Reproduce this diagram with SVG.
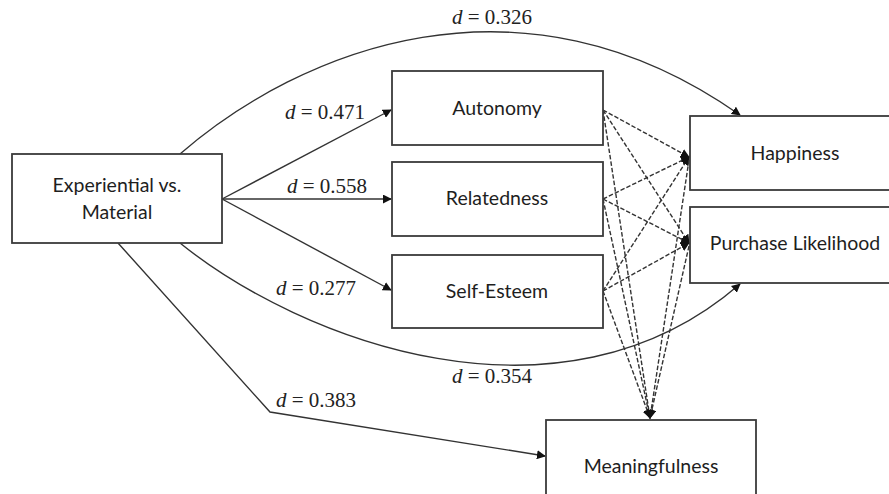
<svg xmlns="http://www.w3.org/2000/svg" width="889" height="494" viewBox="0 0 889 494">
<defs>
<marker id="ah" viewBox="0 0 10 10" refX="9" refY="5" markerWidth="9" markerHeight="9" markerUnits="userSpaceOnUse" orient="auto">
<path d="M0,0 L10,5 L0,10 z" fill="#111"/>
</marker>
<style>
.box{fill:#fff;stroke:#3a3a3a;stroke-width:1.8}
.nt{font-family:Lato,"Open Sans",sans-serif;font-size:19.5px;fill:#1e1e1e;text-anchor:middle}
.lab{font-family:"Liberation Serif",serif;font-size:21px;fill:#222}
.lab tspan.i{font-style:italic}
.sol{fill:none;stroke:#333;stroke-width:1.4;marker-end:url(#ah)}
.das{fill:none;stroke:#333;stroke-width:1.4;stroke-dasharray:4.5 2;marker-end:url(#ah)}
</style>
</defs>
<rect width="889" height="494" fill="#fff"/>
<g id="connectors">
<path class="sol" d="M222,199 L391,110"/>
<path class="sol" d="M222,199 L391,199"/>
<path class="sol" d="M222,199 L391,290"/>
<path class="sol" d="M180,154 C300,50 520,-40 740,115"/>
<path class="sol" d="M180,243 C300,340 560,440 740,284"/>
<path class="sol" d="M118,243 L270,412 L545,456"/>
<path class="das" d="M603,110 L689,157"/>
<path class="das" d="M603,110 L689,243"/>
<path class="das" d="M603,110 L650,418"/>
<path class="das" d="M603,199 L689,157"/>
<path class="das" d="M603,199 L689,243"/>
<path class="das" d="M603,199 L650,418"/>
<path class="das" d="M603,291 L689,157"/>
<path class="das" d="M603,291 L689,243"/>
<path class="das" d="M603,291 L650,418"/>
<path class="das" d="M689,160 L650,418"/>
<path class="das" d="M689,246 L650,418"/>
</g>
<g id="labels">
<text class="lab" x="452" y="24"><tspan class="i">d</tspan> = 0.326</text>
<text class="lab" x="285" y="119"><tspan class="i">d</tspan> = 0.471</text>
<text class="lab" x="287" y="193"><tspan class="i">d</tspan> = 0.558</text>
<text class="lab" x="276" y="295"><tspan class="i">d</tspan> = 0.277</text>
<text class="lab" x="452" y="383"><tspan class="i">d</tspan> = 0.354</text>
<text class="lab" x="276" y="407"><tspan class="i">d</tspan> = 0.383</text>
</g>
<g id="node-experiential">
<rect class="box" x="12" y="154" width="210" height="89"/>
<text class="nt" x="117" y="192">Experiential vs.</text>
<text class="nt" x="117" y="219">Material</text>
</g>
<g id="node-autonomy">
<rect class="box" x="392" y="71" width="211" height="74"/>
<text class="nt" x="497" y="115">Autonomy</text>
</g>
<g id="node-relatedness">
<rect class="box" x="392" y="162" width="211" height="74"/>
<text class="nt" x="497" y="205">Relatedness</text>
</g>
<g id="node-selfesteem">
<rect class="box" x="392" y="255" width="211" height="73"/>
<text class="nt" x="497" y="298">Self-Esteem</text>
</g>
<g id="node-happiness">
<rect class="box" x="690" y="116" width="220" height="74"/>
<text class="nt" x="795" y="160">Happiness</text>
</g>
<g id="node-purchase">
<rect class="box" x="690" y="207" width="220" height="76"/>
<text class="nt" x="795" y="250">Purchase Likelihood</text>
</g>
<g id="node-meaningfulness">
<rect class="box" x="546" y="420" width="210" height="90"/>
<text class="nt" x="651" y="473">Meaningfulness</text>
</g>
</svg>
